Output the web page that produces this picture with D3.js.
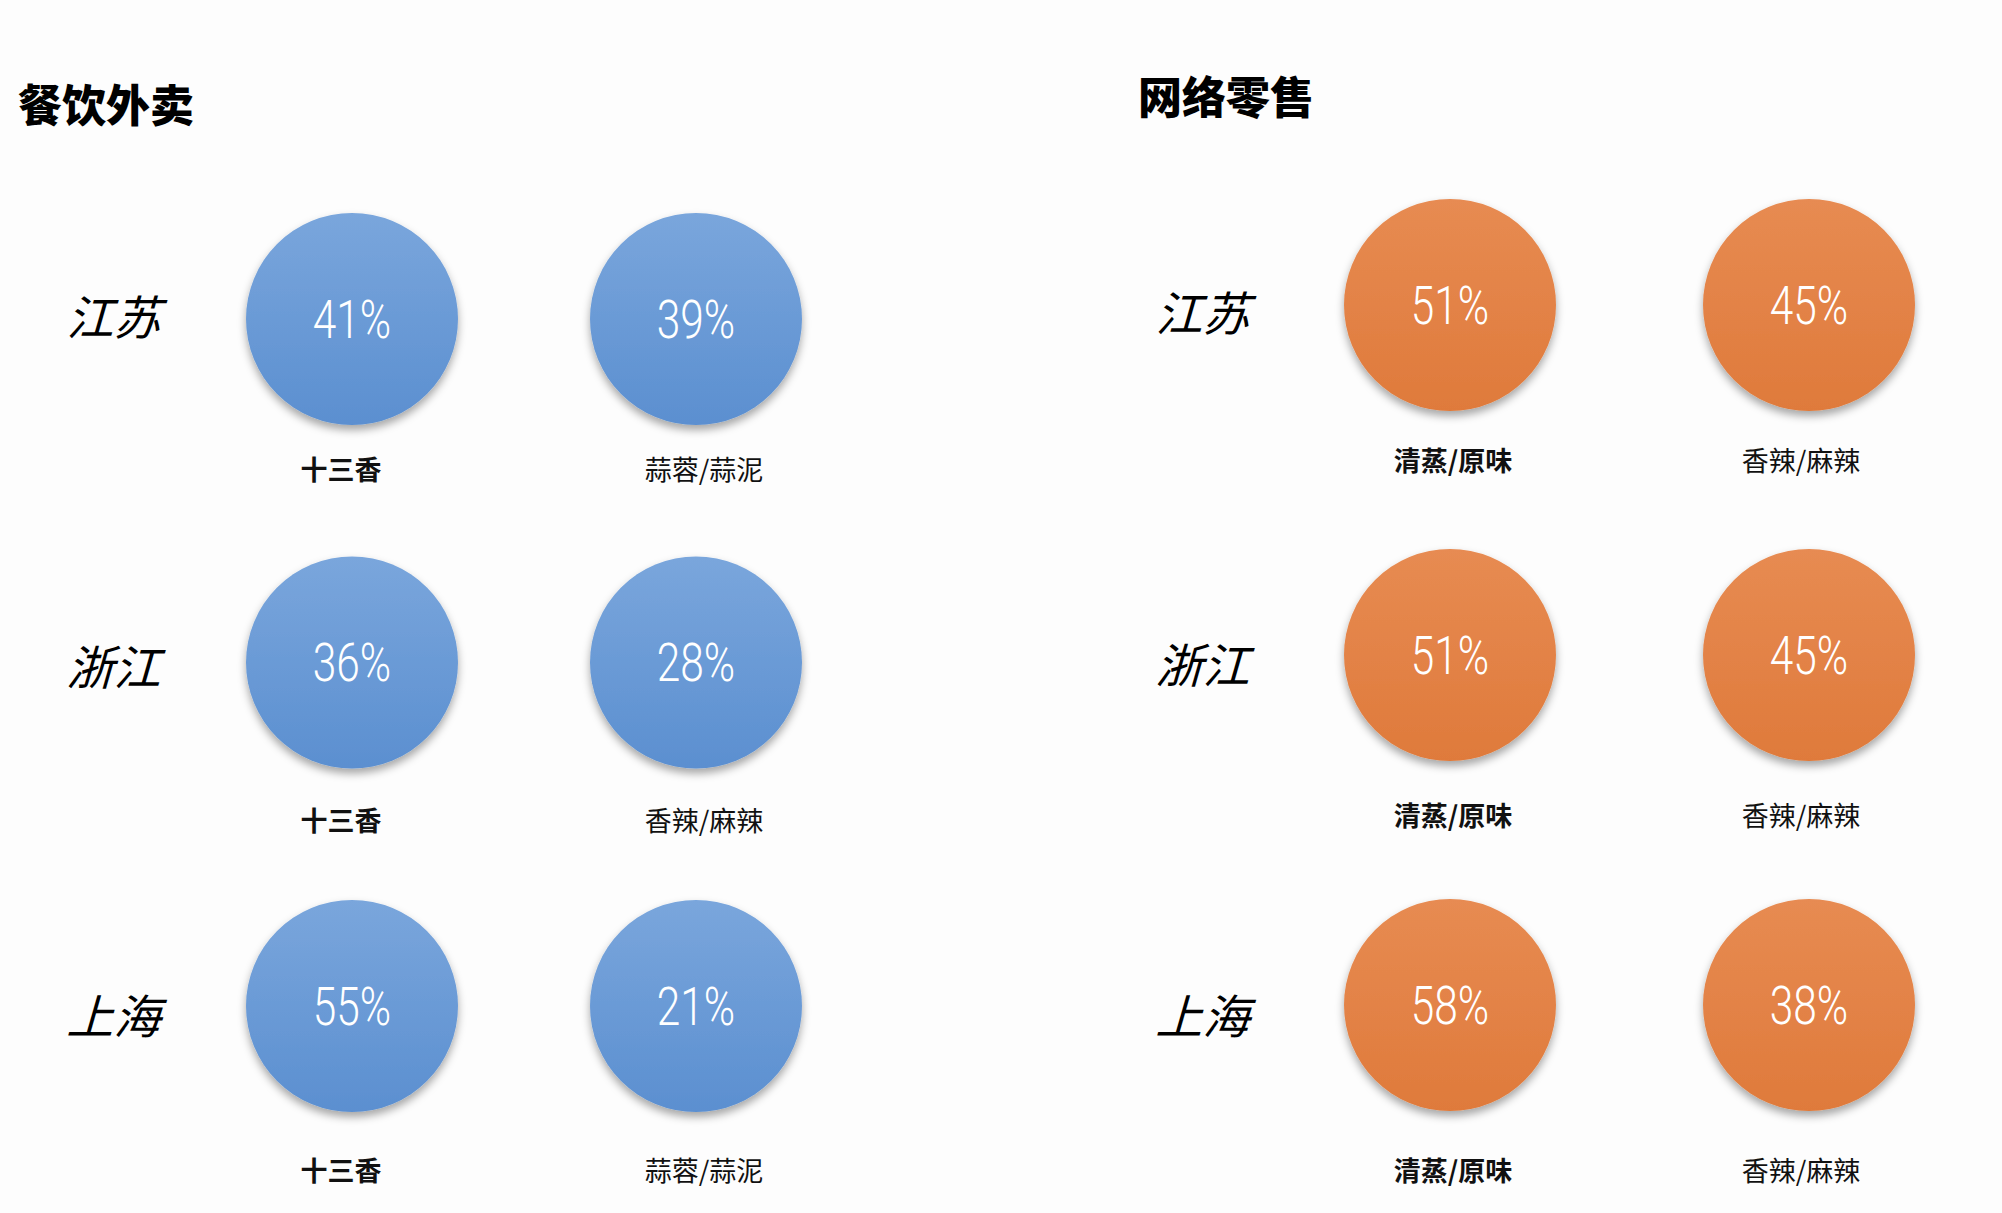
<!DOCTYPE html>
<html>
<head>
<meta charset="utf-8">
<script src="https://cdn.jsdelivr.net/npm/d3@7"></script>
<style>
  body { margin: 0; background: #fdfdfd; }
  svg { display: block; }
  .title { font-family: "Noto Sans CJK SC", sans-serif; font-weight: 900; font-size: 44px; fill: #000; }
  .prov { font-family: "Noto Sans CJK SC", sans-serif; font-size: 47px; fill: #000; }
  .pct { font-family: Roboto, "Open Sans", sans-serif; font-weight: 300; font-size: 53px; fill: #fff; }
  .flav { font-family: "Noto Sans CJK SC", sans-serif; font-size: 27px; fill: #111; }
</style>
</head>
<body>
<div id="chart"></div>
<script>
// ====== 两个渠道，三个省市的口味偏好 ======

let provinces = ["江苏", "浙江", "上海"];

// 餐饮外卖
let foodFlavors = [["十三香", "蒜蓉/蒜泥"], ["十三香", "香辣/麻辣"], ["十三香", "蒜蓉/蒜泥"]];
let foodValues = [[41, 39], [36, 28], [55, 21]];

// 网络零售
let retailFlavors = [["清蒸/原味", "香辣/麻辣"], ["清蒸/原味", "香辣/麻辣"], ["清蒸/原味", "香辣/麻辣"]];
let retailValues = [[51, 45], [51, 45], [58, 38]];

let boldFlavors = ["十三香", "清蒸/原味"];

let width = 2002, height = 1213;

let svg = d3.select("#chart").append("svg")
    .attr("width", width)
    .attr("height", height);

let defs = svg.append("defs");

// soft shadow under each bubble
let shadow = defs.append("filter").attr("id", "shadow")
    .attr("x", "-20%").attr("y", "-20%").attr("width", "140%").attr("height", "150%");
shadow.append("feDropShadow")
    .attr("dx", 0).attr("dy", 5).attr("stdDeviation", 4)
    .attr("flood-color", "#000").attr("flood-opacity", 0.35);

function gradient(id, top, bottom) {
    let g = defs.append("linearGradient").attr("id", id)
        .attr("x1", 0).attr("y1", 0).attr("x2", 0).attr("y2", 1);
    g.append("stop").attr("offset", "0%").attr("stop-color", top);
    g.append("stop").attr("offset", "100%").attr("stop-color", bottom);
}
gradient("blue", "#7aa6dc", "#5b8fd0");
gradient("orange", "#e78b52", "#df7a3b");

let panels = [
    {title: "餐饮外卖", titleX: 18, titleY: 122, flavors: foodFlavors, values: foodValues, fill: "url(#blue)",
     provX: 118, cols: [352, 696], labelCols: [341, 704], rows: [319, 1006], labelRows: [471, 1172], provRows: [319, 1018]},
    {title: "网络零售", titleX: 1138, titleY: 114, flavors: retailFlavors, values: retailValues, fill: "url(#orange)",
     provX: 1207, cols: [1450, 1809], labelCols: [1453, 1801], rows: [305, 1005], labelRows: [462, 1172], provRows: [315, 1018]}
];

panels.forEach(function(p) {
    let g = svg.append("g");

    let x = d3.scalePoint().domain([0, 1]).range(p.cols);
    let xLabel = d3.scalePoint().domain([0, 1]).range(p.labelCols);
    let y = d3.scalePoint().domain(provinces).range(p.rows);
    let yLabel = d3.scalePoint().domain(provinces).range(p.labelRows);
    let yProv = d3.scalePoint().domain(provinces).range(p.provRows);

    g.append("text")
        .attr("class", "title")
        .attr("x", p.titleX)
        .attr("y", p.titleY)
        .text(p.title);

    // province names, slanted like the original italic
    g.selectAll(".prov")
        .data(provinces)
        .enter().append("text")
        .attr("class", "prov")
        .attr("transform", function(d) { return "translate(" + p.provX + "," + yProv(d) + ") skewX(-16)"; })
        .attr("dy", "0.35em")
        .attr("text-anchor", "middle")
        .text(function(d) { return d; });

    // flatten into one cell per bubble
    let cells = [];
    provinces.forEach(function(prov, i) {
        p.values[i].forEach(function(v, j) {
            cells.push({prov: prov, col: j, value: v, flavor: p.flavors[i][j]});
        });
    });

    g.selectAll(".bubble")
        .data(cells)
        .enter().append("circle")
        .attr("class", "bubble")
        .attr("cx", function(d) { return x(d.col); })
        .attr("cy", function(d) { return y(d.prov); })
        .attr("r", 106)
        .attr("fill", p.fill)
        .attr("filter", "url(#shadow)");

    // narrow light digits
    g.selectAll(".pct")
        .data(cells)
        .enter().append("text")
        .attr("class", "pct")
        .attr("transform", function(d) { return "translate(" + x(d.col) + "," + y(d.prov) + ") scale(0.8,1)"; })
        .attr("dy", "0.35em")
        .attr("text-anchor", "middle")
        .text(function(d) { return d.value + "%"; });

    g.selectAll(".flav")
        .data(cells)
        .enter().append("text")
        .attr("class", "flav")
        .attr("x", function(d) { return xLabel(d.col); })
        .attr("y", function(d) { return yLabel(d.prov); })
        .attr("dy", "0.35em")
        .attr("text-anchor", "middle")
        .style("font-weight", function(d) { return boldFlavors.indexOf(d.flavor) >= 0 ? 700 : 400; })
        .text(function(d) { return d.flavor; });
});
</script>
</body>
</html>
